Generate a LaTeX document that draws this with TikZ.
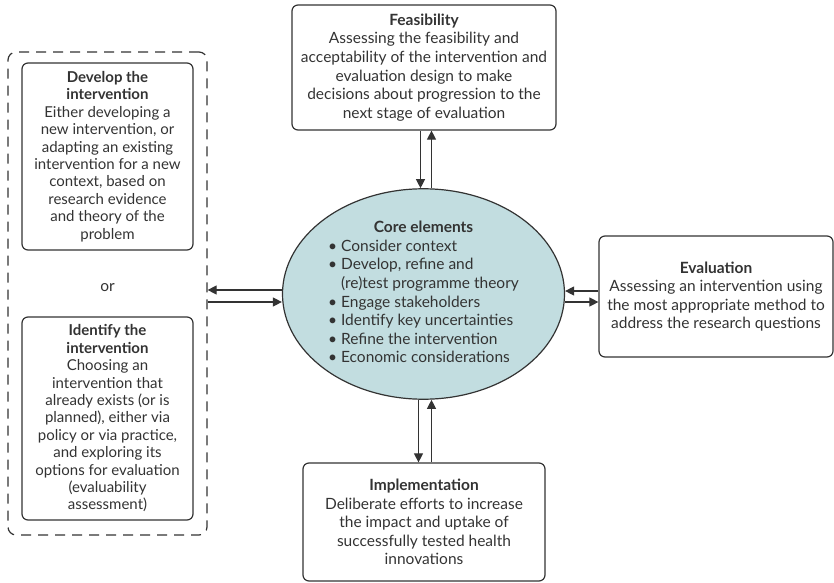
\documentclass[tikz,border=0pt]{standalone}
\usepackage{fontspec}
\setmainfont{Lato}
\usetikzlibrary{arrows.meta,shapes.geometric,positioning,calc}

\definecolor{linegray}{HTML}{333333}
\definecolor{coreblue}{HTML}{C2DDE0}

\tikzset{
 box/.style={draw=linegray, line width=1.2pt, rounded corners=6pt, align=center, inner sep=3pt, text=linegray},
 sidebox/.style={box, font=\fontsize{15}{17.4}\selectfont},
 arr/.style={-{Triangle[length=9pt,width=9pt]}, line width=1.1pt, draw=linegray},
}

\begin{document}
\begin{tikzpicture}[x=1pt, y=1pt, font=\fontsize{15.5}{18.6}\selectfont]
 \useasboundingbox (0,0) rectangle (834,582);

 \node[ellipse, draw=linegray, fill=coreblue, line width=1.2pt, minimum width=282pt, minimum height=199pt, inner sep=0pt, text=linegray] (core) at (423.5,288)
  {\begin{tabular}{@{}l@{}}
   \multicolumn{1}{c}{\textbf{Core elements}}\\
   \textbullet\ Consider context\\
   \textbullet\ Develop, refine and\\
   \phantom{\textbullet\ }(re)test programme theory\\
   \textbullet\ Engage stakeholders\\
   \textbullet\ Identify key uncertainties\\
   \textbullet\ Refine the intervention\\
   \textbullet\ Economic considerations
  \end{tabular}};

 \node[box, minimum width=264pt, minimum height=125pt] (feas) at (424,514.5)
  {\textbf{Feasibility}\\Assessing the feasibility and\\acceptability of the intervention and\\evaluation design to make\\decisions about progression to the\\next stage of evaluation};

 \node[box, minimum width=234pt, minimum height=121pt] (eval) at (716,285.5)
  {\textbf{Evaluation}\\Assessing an intervention using\\the most appropriate method to\\address the research questions};

 \node[box, minimum width=242pt, minimum height=118pt] (impl) at (424,60)
  {\textbf{Implementation}\\Deliberate efforts to increase\\the impact and uptake of\\successfully tested health\\innovations};

 \node[draw=linegray, line width=1.2pt, dash pattern=on 10pt off 7pt, rounded corners=8pt, minimum width=199pt, minimum height=483pt] (group) at (107.5,288.5) {};

 \node[sidebox, minimum width=171pt, minimum height=187pt] (dev) at (107.5,425.5)
  {\textbf{Develop the}\\\textbf{intervention}\\Either developing a\\new intervention, or\\adapting an existing\\intervention for a new\\context, based on\\research evidence\\and theory of the\\problem};

 \node[text=linegray] (or) at (107.5,294) {or};

 \node[sidebox, minimum width=171pt, minimum height=203pt] (iden) at (107.5,163.5)
  {\textbf{Identify the}\\\textbf{intervention}\\Choosing an\\intervention that\\already exists (or is\\planned), either via\\policy or via practice,\\and exploring its\\options for evaluation\\(evaluability\\assessment)};

 \draw[arr] ([xshift=-3pt]core.north |- feas.south) -- ([xshift=-3pt]core.north);
 \draw[arr] ([xshift=8pt]core.north) -- ([xshift=8pt]core.north |- feas.south);

 \draw[arr] ([xshift=-5pt]core.south) -- ([xshift=-5pt]core.south |- impl.north);
 \draw[arr] ([xshift=8pt]core.south |- impl.north) -- ([xshift=8pt]core.south);

 \draw[arr] ([yshift=4pt]core.west) -- ([yshift=4pt]core.west -| group.east);
 \draw[arr] ([yshift=-8pt]core.west -| group.east) -- ([yshift=-8pt]core.west);

 \draw[arr] ([yshift=3pt]core.east -| eval.west) -- ([yshift=3pt]core.east);
 \draw[arr] ([yshift=-8pt]core.east) -- ([yshift=-8pt]core.east -| eval.west);
\end{tikzpicture}
\end{document}
